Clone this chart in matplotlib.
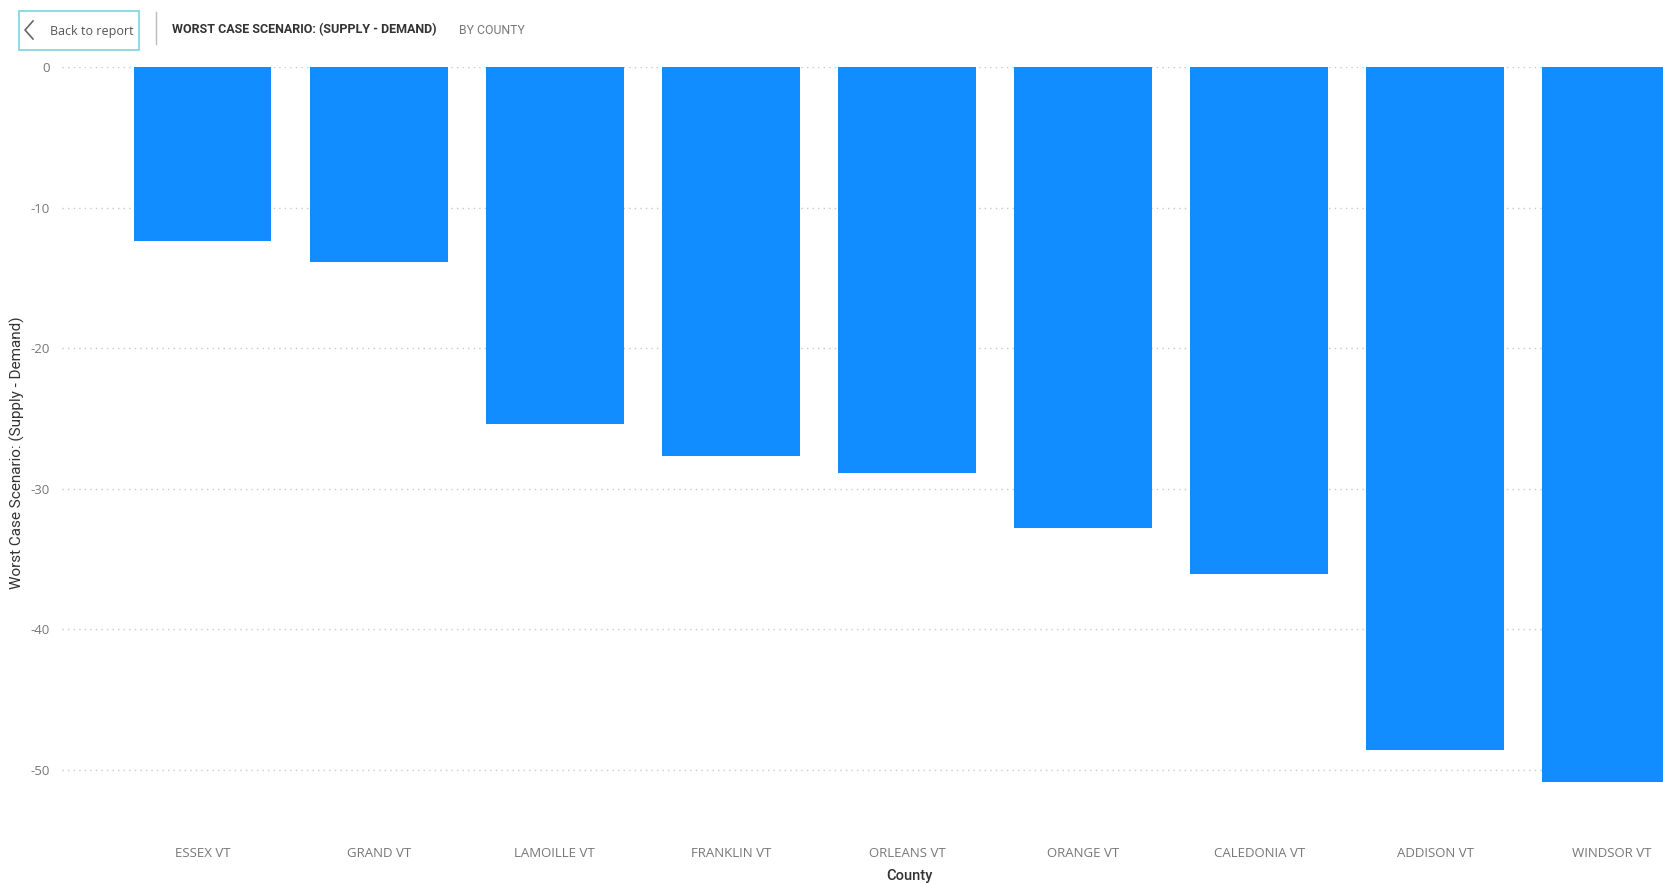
import matplotlib
matplotlib.use("Agg")
import matplotlib.pyplot as plt
from matplotlib.patches import Rectangle
from matplotlib.lines import Line2D

counties = ["ESSEX VT", "GRAND VT", "LAMOILLE VT", "FRANKLIN VT", "ORLEANS VT",
            "ORANGE VT", "CALEDONIA VT", "ADDISON VT", "WINDSOR VT"]
worst_case = [-12.4, -13.9, -25.4, -27.7, -28.9, -32.8, -36.1, -48.6, -50.9]
y_ticks = [0, -10, -20, -30, -40, -50]

W, H = 1663, 883
fig = plt.figure(figsize=(W / 100, H / 100), dpi=100)
fig.patch.set_facecolor("white")

# plot area (pixel positions)
ax_left, ax_top, ax_bottom = 62, 67, 826
ax = fig.add_axes([ax_left / W, 1 - ax_bottom / H, 1 - ax_left / W, (ax_bottom - ax_top) / H])

x = list(range(len(counties)))
ax.bar(x, worst_case, width=0.783, color="#118DFF", zorder=3)
ax.set_xlim(-0.798, 8.293)
ax.set_ylim(-54, 0)
ax.set_yticks(y_ticks)
ax.set_yticklabels([str(v) for v in y_ticks])
ax.set_xticks(x)
ax.set_xticklabels(counties)
ax.grid(axis="y", linestyle=(0, (1, 3)), color="#c8c8c8", linewidth=1, zorder=0)
for s in ax.spines.values():
    s.set_visible(False)
ax.tick_params(axis="both", length=0, colors="#777777", labelsize=9.5)
ax.tick_params(axis="x", pad=15)
ax.tick_params(axis="y", pad=9)
for lab in ax.get_xticklabels() + ax.get_yticklabels():
    lab.set_fontfamily("Open Sans")

fig.text(10 / W, 1 - 453 / H, "Worst Case Scenario: (Supply - Demand)", rotation=90,
         ha="left", va="center", fontsize=11, color="#333333", family="Roboto")
fig.text(909 / W, 1 - 876 / H, "County", ha="center", va="center",
         fontsize=10.5, color="#333333", family="Roboto", fontweight="medium")

# header: back button, separator, title
fig.patches.append(Rectangle((19 / W, 1 - 50 / H), 120 / W, 39 / H, transform=fig.transFigure,
                             facecolor="white", edgecolor="#79d3e3", linewidth=1.2))
fig.lines.append(Line2D([33 / W, 25 / W, 33 / W], [1 - 21 / H, 1 - 30 / H, 1 - 39 / H],
                        transform=fig.transFigure, color="#666666", linewidth=1.2))
fig.text(50 / W, 1 - 31 / H, "Back to report", ha="left", va="center",
         fontsize=9.0, color="#555555", family="Open Sans")
fig.lines.append(Line2D([156 / W, 156 / W], [1 - 12 / H, 1 - 44 / H],
                        transform=fig.transFigure, color="#bbbbbb", linewidth=1))
fig.text(172 / W, 1 - 30 / H, "WORST CASE SCENARIO: (SUPPLY - DEMAND)", ha="left", va="center",
         fontsize=9.0, color="#333333", family="Roboto", fontweight="bold")
fig.text(459 / W, 1 - 30 / H, "BY COUNTY", ha="left", va="center",
         fontsize=8.8, color="#777777", family="Roboto")

fig.savefig("out.png", dpi=100)
